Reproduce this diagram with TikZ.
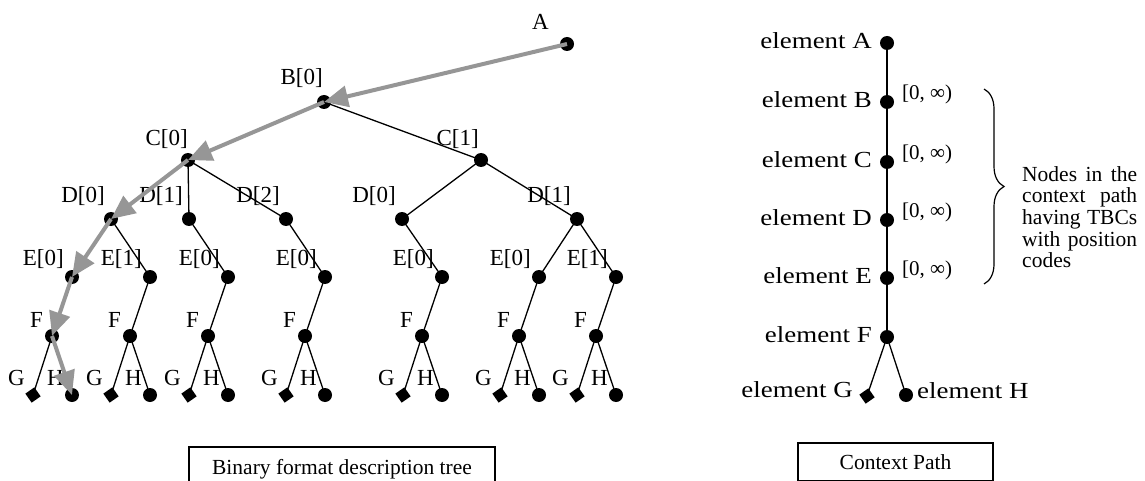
\documentclass[tikz,border=0pt]{standalone}
\usepackage{fontspec}
\setmainfont{Liberation Serif}
\newfontfamily\wideserif[FakeStretch=1.17]{Liberation Serif}
\usetikzlibrary{arrows.meta,decorations.pathreplacing}
\definecolor{pathgray}{RGB}{150,150,150}
\pgfdeclarelayer{bg}
\pgfsetlayers{bg,main}
\begin{document}
\begin{tikzpicture}[x=1pt,y=-1pt,
  dot/.style={circle,fill=black,inner sep=0pt,minimum size=14pt},
  sq/.style={rectangle,fill=black,inner sep=0pt,minimum size=11pt,rotate=35},
  edge/.style={line width=1.3pt,black},
  grayarrow/.style={line width=4pt,draw=pathgray,-{Triangle[length=24pt,width=21pt]}},
  lbl/.style={font=\fontsize{23}{26}\selectfont,inner sep=0pt,anchor=base east},
  elbl/.style={font=\wideserif\fontsize{23}{26}\selectfont,inner sep=0pt},
  rng/.style={font=\fontsize{21}{24}\selectfont,inner sep=0pt,anchor=west},
  capbox/.style={draw,line width=1.1pt,font=\fontsize{21.5}{24}\selectfont,inner sep=0pt}
]
\clip (0,0) rectangle (1145,481);
% ---------------- left tree ----------------
\node[dot] (A) at (567,44) {};
\node[dot] (B0) at (324,102) {};
\node[dot] (C0) at (188,160) {};
\node[dot] (C1) at (481,160) {};
\foreach \i/\x in {1/111,2/189,3/286,4/402,5/577}{
  \node[dot] (D\i) at (\x,219) {};
}
\foreach \i/\x in {1/72,2/150,3/228,4/325,5/442,6/539,7/616}{
  \node[dot] (E\i) at (\x,277) {};
  \node[dot] (F\i) at (\x-20,336) {};
  \node[sq]  (G\i) at (\x-39,395) {};
  \node[dot] (H\i) at (\x,395) {};
}
\begin{pgfonlayer}{bg}
  \draw[edge] (A.center) -- (B0.center);
  \draw[edge] (B0.center) -- (C0.center);
  \draw[edge] (B0.center) -- (C1.center);
  \draw[edge] (C0.center) -- (D1.center);
  \draw[edge] (C0.center) -- (D2.center);
  \draw[edge] (C0.center) -- (D3.center);
  \draw[edge] (C1.center) -- (D4.center);
  \draw[edge] (C1.center) -- (D5.center);
  \draw[edge] (D1.center) -- (E1.center);
  \draw[edge] (D1.center) -- (E2.center);
  \draw[edge] (D2.center) -- (E3.center);
  \draw[edge] (D3.center) -- (E4.center);
  \draw[edge] (D4.center) -- (E5.center);
  \draw[edge] (D5.center) -- (E6.center);
  \draw[edge] (D5.center) -- (E7.center);
  \foreach \i in {1,...,7}{
    \draw[edge] (E\i.center) -- (F\i.center);
    \draw[edge] (F\i.center) -- (G\i.center);
    \draw[edge] (F\i.center) -- (H\i.center);
  }
\end{pgfonlayer}
% labels
\node[lbl] at ([shift={(-18,-14)}]A.center) {A};
\node[lbl] at ([shift={(-1,-17)}]B0.center) {B[0]};
\node[lbl] at ([shift={(0,-14)}]C0.center) {C[0]};
\node[lbl] at ([shift={(-2,-14)}]C1.center) {C[1]};
\node[lbl] at ([shift={(-6,-16)}]D1.center) {D[0]};
\node[lbl] at ([shift={(-6,-16)}]D2.center) {D[1]};
\node[lbl] at ([shift={(-6,-16)}]D3.center) {D[2]};
\node[lbl] at ([shift={(-6,-16)}]D4.center) {D[0]};
\node[lbl] at ([shift={(-6,-16)}]D5.center) {D[1]};
\foreach \i/\t in {1/E[0],2/E[1],3/E[0],4/E[0],5/E[0],6/E[0],7/E[1]}{
  \node[lbl] at ([shift={(-8,-12)}]E\i.center) {\t};
}
\foreach \i in {1,...,7}{
  \node[lbl] at ([shift={(-9,-9)}]F\i.center) {F};
  \node[lbl] at ([shift={(-8,-10)}]G\i.center) {G};
  \node[lbl] at ([shift={(-8,-10)}]H\i.center) {H};
}
% gray path
\draw[grayarrow] (A.center) -- (B0.center);
\draw[grayarrow] (B0.center) -- (C0.center);
\draw[grayarrow] (C0.center) -- (D1.center);
\draw[grayarrow] (D1.center) -- (E1.center);
\draw[grayarrow] (E1.center) -- (F1.center);
\draw[grayarrow] (F1.center) -- (H1.center);
% caption 1
\node[capbox,minimum width=306pt,minimum height=44pt] (cap1) at (342,469) {Binary format description tree};
% ---------------- context path ----------------
\foreach \n/\y in {A/43,B/102,C/162,D/220,E/278,F/337}{
  \node[dot] (e\n) at (887,\y) {};
  \node[elbl,anchor=east] (l\n) at ([shift={(-15,-2)}]e\n.center) {element \n};
}
\node[sq] (eG) at (867,396) {};
\node[dot] (eH) at (906,395) {};
\node[elbl,anchor=east] (lG) at ([shift={(-14,-6)}]eG.center) {element G};
\node[elbl,anchor=west] (lH) at ([shift={(11,-4)}]eH.center) {element H};
\begin{pgfonlayer}{bg}
  \draw[edge] (eA.center) -- (eB.center) -- (eC.center) -- (eD.center) -- (eE.center) -- (eF.center);
  \draw[edge] (eF.center) -- (eG.center);
  \draw[edge] (eF.center) -- (eH.center);
\end{pgfonlayer}
\foreach \n in {B,C,D,E}{
  \node[rng] (r\n) at ([shift={(15,-8)}]e\n.center) {[0, ∞)};
}
\coordinate (bt) at (984,89);
\coordinate (bb) at (984,284);
\draw[decorate,decoration={brace,amplitude=20pt},line width=1.2pt] (bt) -- (bb);
\node[anchor=north west,text width=115pt,align=justify,inner sep=0pt,
  font=\fontsize{21.5}{21.7}\selectfont] (note) at (1022,166)
  {\tolerance=10000\hbadness=10000 Nodes in the\linebreak context path\linebreak having TBCs\linebreak with position\linebreak codes};
\node[capbox,minimum width=195pt,minimum height=38pt] (cap2) at (895.5,462) {Context Path};
\end{tikzpicture}
\end{document}
